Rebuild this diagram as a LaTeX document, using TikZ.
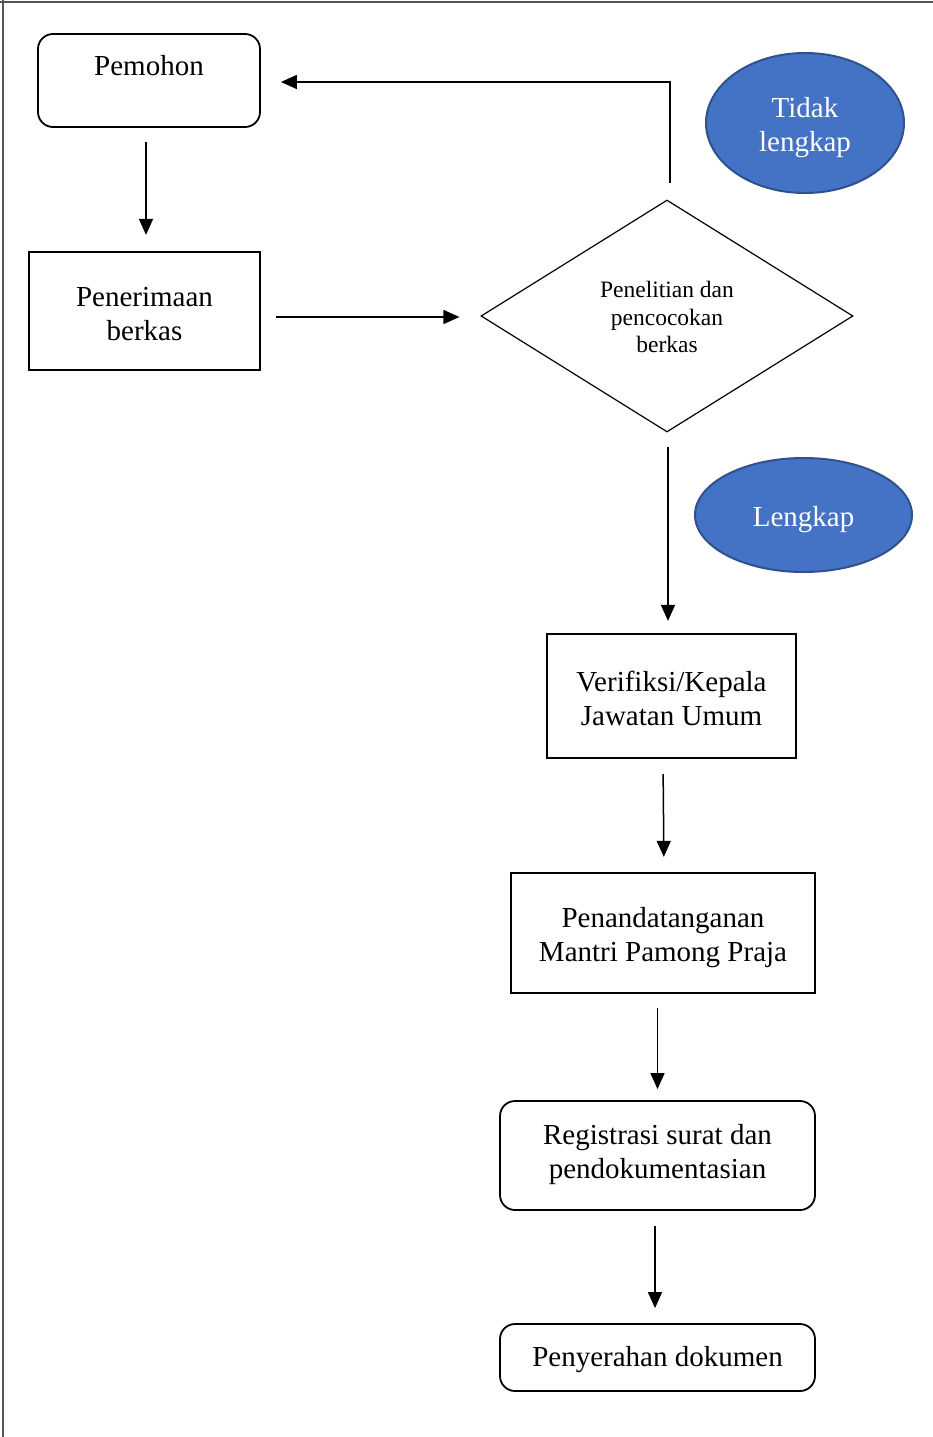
\documentclass[tikz,border=0pt]{standalone}
\usepackage{fontspec}
\setmainfont{Liberation Serif}
\usetikzlibrary{shapes.geometric,arrows.meta}
\definecolor{bubblefill}{HTML}{4472C4}
\definecolor{bubbleedge}{HTML}{2F528F}
\definecolor{framegray}{HTML}{555555}
\tikzset{
  bigtext/.style={font=\fontsize{29}{34}\selectfont, align=center, inner sep=0pt},
  smalltext/.style={font=\fontsize{23.5}{27.5}\selectfont, align=center, inner sep=0pt},
  stepbox/.style={draw, line width=2.2pt, inner sep=0pt},
  roundbox/.style={draw, line width=1.8pt, rounded corners=15pt, inner sep=0pt},
  decision/.style={draw, diamond, line width=1.2pt, inner sep=0pt},
  bubble/.style={ellipse, draw=bubbleedge, fill=bubblefill, line width=2pt, inner sep=0pt},
  bubbletext/.style={bigtext, text=white},
  flow/.style={line width=1.5pt, -{Triangle[length=16pt,width=14pt]}},
}
\begin{document}
\begin{tikzpicture}[x=1pt,y=-1pt]
\useasboundingbox (0,0) rectangle (933,1437);
% page frame
\draw[framegray, line width=1.5pt] (0,2) -- (933,2);
\draw[framegray, line width=1.5pt] (3,0) -- (3,1437);

% shapes
\node[roundbox, minimum width=222pt, minimum height=93pt] (pemohon) at (149,80.5) {};
\node[stepbox, minimum width=231pt, minimum height=118pt] (terima) at (144.5,311) {};
\node[decision, minimum width=372pt, minimum height=232pt] (teliti) at (667,316) {};
\node[bubble, minimum width=198pt, minimum height=140pt] (tidak) at (805,123) {};
\node[bubble, minimum width=217pt, minimum height=114pt] (lengkap) at (803.5,515) {};
\node[stepbox, minimum width=249pt, minimum height=124pt] (verif) at (671.5,696) {};
\node[stepbox, minimum width=304pt, minimum height=120pt] (tanda) at (663,933) {};
\node[roundbox, minimum width=315pt, minimum height=109pt] (regis) at (657.5,1155.5) {};
\node[roundbox, minimum width=315pt, minimum height=67pt] (serah) at (657.5,1357.5) {};

% texts
\node[bigtext] (pemohontext) at ([yshift=-3pt]149,63) {Pemohon};
\node[bigtext] (terimatext) at ([yshift=-3pt]terima.center) {Penerimaan\\berkas};
\node[smalltext] (telititext) at ([yshift=-1pt]teliti.center) {Penelitian dan\\pencocokan\\berkas};
\node[bubbletext] (tidaktext) at ([yshift=-5pt]tidak.center) {Tidak\\lengkap};
\node[bubbletext] (lengkaptext) at ([yshift=-5pt]lengkap.center) {Lengkap};
\node[bigtext] (veriftext) at ([yshift=-2pt]verif.center) {Verifiksi/Kepala\\Jawatan Umum};
\node[bigtext] (tandatext) at ([yshift=-5pt]tanda.center) {Penandatanganan\\Mantri Pamong Praja};
\node[bigtext] (registext) at ([yshift=0.5pt]regis.center) {Registrasi surat dan\\pendokumentasian};
\node[bigtext] (serahtext) at ([yshift=-2pt]serah.center) {Penyerahan dokumen};

% return path for incomplete files
\coordinate (balikbawah) at (670,183);
\coordinate (balikatas) at (670,82);
\draw[flow, shorten >=20pt] (balikbawah) -- (balikatas) -- (pemohon.east |- balikatas);

% main flow
\coordinate (terimaout) at ([yshift=-6pt]terima.east);
\draw[flow, shorten <=14pt, shorten >=16pt] ([xshift=-3pt]pemohon.south) -- ([xshift=1.5pt]terima.north);
\draw[flow, shorten <=15pt, shorten >=21pt] (terimaout) -- (teliti.west |- terimaout);
\draw[flow, shorten <=14pt, shorten >=12pt] ([xshift=1pt]teliti.south) -- ([xshift=1pt]teliti.south |- verif.north);
\draw[flow, shorten <=15pt, shorten >=15pt] (tanda.north |- verif.south) -- ([xshift=1pt]tanda.north);
\draw[flow, shorten <=14pt, shorten >=11pt] (regis.north |- tanda.south) -- (regis.north);
\draw[flow, shorten <=15pt, shorten >=15pt] ([xshift=-2.5pt]regis.south) -- ([xshift=-2.5pt]serah.north);
\end{tikzpicture}
\end{document}
